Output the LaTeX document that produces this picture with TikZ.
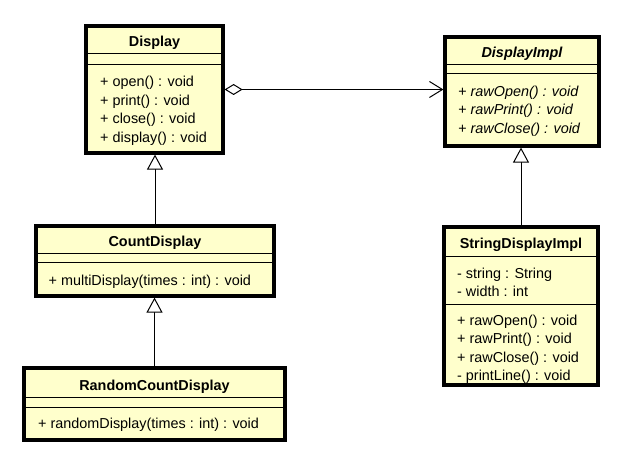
\documentclass[tikz,border=0pt]{standalone}
\usepackage{fontspec}
\setmainfont{Liberation Sans}
\usetikzlibrary{arrows.meta}
\definecolor{umlfill}{RGB}{255,255,204}
\begin{document}
\begin{tikzpicture}[x=1bp,y=-1bp,
  umlbox/.style={draw=black, line width=3.2bp, fill=umlfill, inner sep=0pt, outer sep=1.6bp},
  sepline/.style={line width=1bp, draw=black},
  title/.style={font=\fontsize{14.4bp}{17bp}\selectfont\bfseries, anchor=base, inner sep=0pt},
  member/.style={font=\fontsize{14.4bp}{17bp}\selectfont, anchor=base west, inner sep=0pt},
  abstitle/.style={title, font=\fontsize{14.4bp}{17bp}\selectfont\bfseries\itshape},
  absmember/.style={member, font=\fontsize{14.4bp}{17bp}\selectfont\itshape},
  gen/.style={line width=1bp, -{Triangle[open, length=15bp, width=16bp, fill=white]}},
  assoc/.style={line width=1bp, {Diamond[open, length=18bp, width=11bp, fill=white]}-{Straight Barb[length=13bp, width=16bp]}}
]
\useasboundingbox (0,0) rectangle (629,462);

% ---------- Display ----------
\node[umlbox, minimum width=137bp, minimum height=127bp] (disp) at (154.5,89.5) {};
\draw[sepline] (disp.west |- 0,54) -- (disp.east |- 0,54);
\draw[sepline] (disp.west |- 0,65) -- (disp.east |- 0,65);
\node[title] (dispT) at (154.5,47) {Display};
\node[member] (disp1) at (100,87) {+ open() : void};
\node[member] (disp2) at (100,105.5) {+ print() : void};
\node[member] (disp3) at (100,124) {+ close() : void};
\node[member] (disp4) at (100,142.5) {+ display() : void};

% ---------- DisplayImpl ----------
\node[umlbox, minimum width=154bp, minimum height=109bp] (di) at (522,91.5) {};
\draw[sepline] (di.west |- 0,65) -- (di.east |- 0,65);
\draw[sepline] (di.west |- 0,74) -- (di.east |- 0,74);
\node[abstitle] (diT) at (522,58) {DisplayImpl};
\node[absmember] (di1) at (458,96.5) {+ rawOpen() : void};
\node[absmember] (di2) at (458,115) {+ rawPrint() : void};
\node[absmember] (di3) at (458,133.5) {+ rawClose() : void};

% ---------- CountDisplay ----------
\node[umlbox, minimum width=238bp, minimum height=70bp] (cd) at (155,261) {};
\draw[sepline] (cd.west |- 0,254) -- (cd.east |- 0,254);
\draw[sepline] (cd.west |- 0,263) -- (cd.east |- 0,263);
\node[title] (cdT) at (155,247) {CountDisplay};
\node[member] (cd1) at (48.5,286) {+ multiDisplay(times : int) : void};

% ---------- RandomCountDisplay ----------
\node[umlbox, minimum width=261bp, minimum height=72bp] (rcd) at (154.5,404) {};
\draw[sepline] (rcd.west |- 0,397) -- (rcd.east |- 0,397);
\draw[sepline] (rcd.west |- 0,407) -- (rcd.east |- 0,407);
\node[title] (rcdT) at (154.5,390) {RandomCountDisplay};
\node[member] (rcd1) at (38,428.5) {+ randomDisplay(times : int) : void};

% ---------- StringDisplayImpl ----------
\node[umlbox, minimum width=154bp, minimum height=158bp] (sdi) at (521,306) {};
\draw[sepline] (sdi.west |- 0,257) -- (sdi.east |- 0,257);
\draw[sepline] (sdi.west |- 0,304) -- (sdi.east |- 0,304);
\node[title] (sdiT) at (521,249) {StringDisplayImpl};
\node[member] (sdi1) at (457,278.3) {- string : String};
\node[member] (sdi2) at (457,296.8) {- width : int};
\node[member] (sdi3) at (457,325) {+ rawOpen() : void};
\node[member] (sdi4) at (457,343.5) {+ rawPrint() : void};
\node[member] (sdi5) at (457,362) {+ rawClose() : void};
\node[member] (sdi6) at (457,380.5) {- printLine() : void};

% ---------- connectors ----------
\draw[gen] (cd.north) -- (cd.north |- disp.south);
\draw[gen] (rcd.north) -- (rcd.north |- cd.south);
\draw[gen] (sdi.north) -- (sdi.north |- di.south);
\draw[assoc] (disp.east) -- (disp.east -| di.west);
\end{tikzpicture}
\end{document}
